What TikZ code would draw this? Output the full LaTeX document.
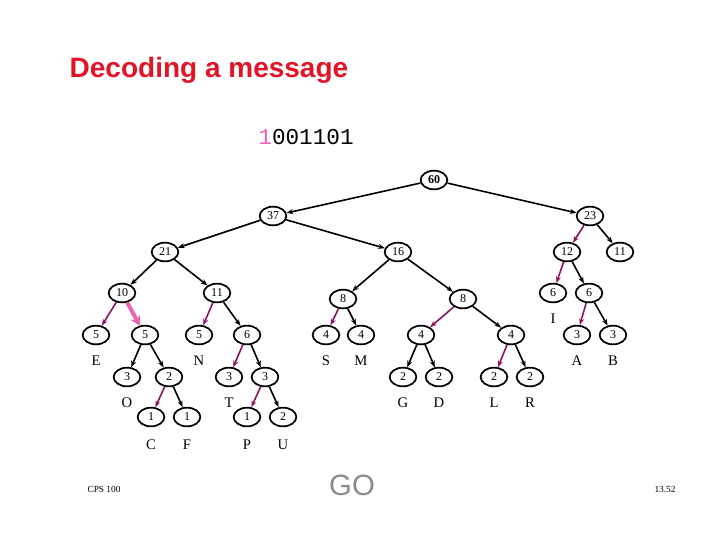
\documentclass[tikz,border=0pt]{standalone}
\usepackage{fontspec}
\setmainfont{Liberation Serif}
\newfontfamily\titlefont{Liberation Sans}
\newfontfamily\codefont{Liberation Mono}
\usetikzlibrary{arrows.meta,shapes.geometric}
\definecolor{plum}{RGB}{140,20,90}
\definecolor{hotpink}{RGB}{235,100,180}
\definecolor{titlered}{RGB}{225,20,40}
\begin{document}
\begin{tikzpicture}[x=0.75pt, y=-0.75pt,
    wt/.style={ellipse, draw, line width=1.3pt, minimum width=20pt, minimum height=14pt, inner sep=0pt, font=\fontsize{9}{9}\selectfont},
    ch/.style={font=\fontsize{11}{11}\selectfont},
    blk/.style={draw, line width=1.2pt, -{Stealth[length=5pt]}},
    mag/.style={draw=plum, line width=1.2pt, -{Stealth[length=5pt]}}]
    \useasboundingbox (0,0) rectangle (720,540);
    \node[anchor=west, text=titlered, font=\titlefont\bfseries\fontsize{21}{21}\selectfont] (title) at (65,70) {Decoding a message};
    \node[font=\codefont\fontsize{17}{17}\selectfont] (code) at (306,137) {\textcolor{hotpink}{1}001101};
    % internal nodes
    \node[wt, font=\bfseries\fontsize{9}{9}\selectfont] (n60) at (434,180) {60};
    \node[wt] (n37) at (273,216) {37};
    \node[wt] (n23) at (590,216) {23};
    \node[wt] (n21) at (165,252) {21};
    \node[wt] (n16) at (398,252) {16};
    \node[wt] (n12) at (567,252) {12};
    \node[wt] (n11r) at (620,252) {11};
    \node[wt] (n10) at (122,293) {10};
    \node[wt] (n11) at (217,293) {11};
    \node[wt] (n8a) at (343,299) {8};
    \node[wt] (n8b) at (463,299) {8};
    \node[wt] (nI) at (553,293) {6};
    \node[wt] (n6r) at (589,293) {6};
    \node[wt] (nE) at (96,335) {5};
    \node[wt] (n5) at (145,335) {5};
    \node[wt] (nN) at (199,335) {5};
    \node[wt] (n6) at (247,335) {6};
    \node[wt] (nS) at (326,335) {4};
    \node[wt] (nM) at (361,335) {4};
    \node[wt] (n4a) at (421,335) {4};
    \node[wt] (n4b) at (511,335) {4};
    \node[wt] (nA) at (577,335) {3};
    \node[wt] (nB) at (613,335) {3};
    \node[wt] (nO) at (127,377) {3};
    \node[wt] (n2) at (169,377) {2};
    \node[wt] (nT) at (229,377) {3};
    \node[wt] (n3) at (265,377) {3};
    \node[wt] (nG) at (403,377) {2};
    \node[wt] (nD) at (439,377) {2};
    \node[wt] (nL) at (494,377) {2};
    \node[wt] (nR) at (530,377) {2};
    \node[wt] (nC) at (151,417) {1};
    \node[wt] (nF) at (187,417) {1};
    \node[wt] (nP) at (247,417) {1};
    \node[wt] (nU) at (283,417) {2};
    % letters
    \foreach \n/\l/\x/\y in {lE/E/96/361, lN/N/199/361, lS/S/326/361, lM/M/361/361, lI/I/553/319,
        lA/A/577/361, lB/B/613/361, lO/O/127/403, lT/T/229/403, lG/G/403/403, lD/D/439/403,
        lL/L/494/403, lR/R/530/403, lC/C/151/445, lF/F/187/445, lP/P/247/445, lU/U/283/445}
        \node[ch] (\n) at (\x,\y) {\l};
    % edges
    \foreach \a/\b in {n60/n37, n60/n23, n37/n21, n37/n16, n21/n10, n21/n11, n16/n8a, n16/n8b,
        n23/n11r, n12/n6r, n6r/nB, n5/nO, n5/n2, n2/nF, n11/n6, n6/n3, n3/nU, n8a/nM,
        n8b/n4b, n4a/nG, n4a/nD, n4b/nR}
        \path[blk] (\a) -- (\b);
    \foreach \a/\b in {n10/nE, n11/nN, n6/nT, n3/nP, n2/nC, n8a/nS, n8b/n4a, n4b/nL,
        n23/n12, n12/nI, n6r/nA}
        \path[mag] (\a) -- (\b);
    \path[draw=hotpink, line width=3pt, -{Stealth[length=7pt, width=8pt]}] (n10) -- (n5);
    \node[text=black!45, font=\titlefont\fontsize{22}{22}\selectfont] (go) at (352,485) {GO};
    \node[font=\fontsize{7}{7}\selectfont] (course) at (104,489) {CPS 100};
    \node[font=\fontsize{7}{7}\selectfont] (page) at (665,489) {13.52};
\end{tikzpicture}
\end{document}
